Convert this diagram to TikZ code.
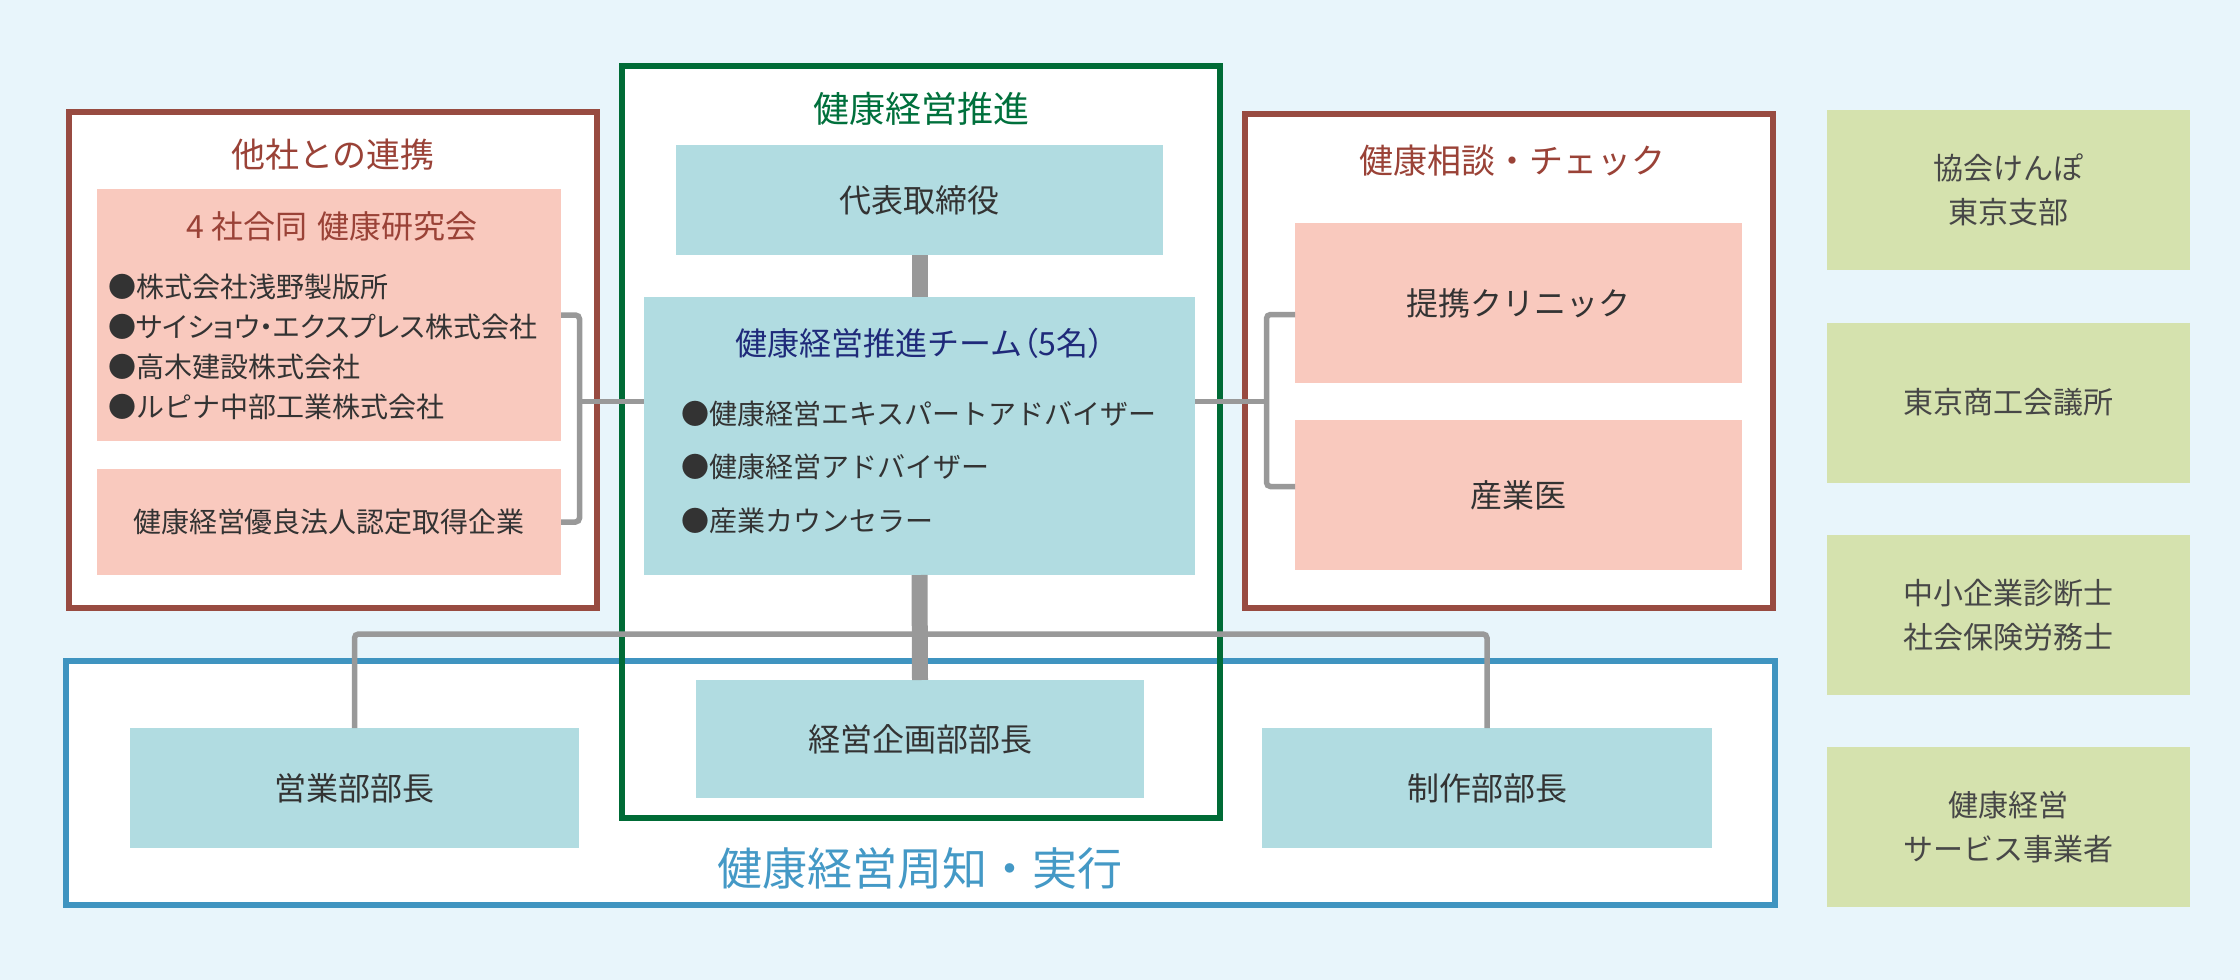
\documentclass[tikz,border=0pt]{standalone}
\usepackage{fontspec}
\setmainfont{Noto Sans CJK JP}
\usepackage{tikz}

\definecolor{bgblue}{HTML}{E8F5FB}
\definecolor{redline}{HTML}{984B41}
\definecolor{redtext}{HTML}{9A4237}
\definecolor{greenline}{HTML}{006B36}
\definecolor{greentext}{HTML}{00703C}
\definecolor{blueline}{HTML}{3F94C0}
\definecolor{bluetext}{HTML}{4499C6}
\definecolor{navytext}{HTML}{1F2A7A}
\definecolor{pinkfill}{HTML}{F9C9BE}
\definecolor{tealfill}{HTML}{B1DCE1}
\definecolor{olivefill}{HTML}{D5E2AE}
\definecolor{linkgrey}{HTML}{999999}
\definecolor{textgrey}{HTML}{333333}

\begin{document}
\begin{tikzpicture}[x=0.5pt,y=-0.5pt]
  \tikzstyle{outerbox}=[rectangle,fill=white,outer sep=0pt,inner sep=0pt]
  \tikzstyle{box}=[rectangle,outer sep=0pt,inner sep=0pt,text=textgrey,font=\fontsize{16}{20}\selectfont]
  \tikzstyle{pinkbox}=[box,fill=pinkfill]
  \tikzstyle{tealbox}=[box,fill=tealfill]
  \tikzstyle{olivebox}=[box,fill=olivefill,align=center,text=textgrey!90,minimum width=181.5pt,minimum height=80pt,font=\fontsize{15}{21.75}\selectfont]
  \tikzstyle{title}=[inner sep=0pt,font=\fontsize{17}{20}\selectfont]
  \tikzstyle{item}=[inner sep=0pt,anchor=west,align=left,text=textgrey]
  \tikzstyle{rim}=[line width=3pt]
  \tikzstyle{link}=[draw=linkgrey,line width=2.75pt,rounded corners=2pt]
  \tikzstyle{trunk}=[draw=linkgrey,line width=8pt]

  \fill[bgblue] (0,0) rectangle (2240,980);
  \useasboundingbox (0,0) rectangle (2240,980);

  % frames
  \node[outerbox,minimum width=854.5pt,minimum height=122.25pt] (fB) at (920.5,782.75) {};
  \node[outerbox,minimum width=299pt,minimum height=376pt] (fG) at (921,442) {};
  \node[outerbox,minimum width=264pt,minimum height=248pt] (fL) at (333,360) {};
  \node[outerbox,minimum width=264pt,minimum height=247pt] (fR) at (1509,361) {};
  \draw[rim,blueline] (fB.north west) rectangle (fB.south east);
  \draw[rim,greenline] (fG.north west) rectangle (fG.south east);
  \draw[rim,redline] (fL.north west) rectangle (fL.south east);
  \draw[rim,redline] (fR.north west) rectangle (fR.south east);

  \node[title,text=redtext] (tL) at (333,155) {他社との連携};
  \node[title,text=greentext,font=\fontsize{18}{20}\selectfont] (tG) at (921,109) {健康経営推進};
  \node[title,text=redtext] (tR) at (1512,161) {健康相談・チェック};
  \node[title,text=bluetext,font=\fontsize{22.5}{26}\selectfont] (tB) at (920,868) {健康経営周知・実行};

  % other companies
  \node[pinkbox,minimum width=232pt,minimum height=126pt] (kenkyu) at (329,315) {};
  \node[title,text=redtext,font=\fontsize{16}{20}\selectfont] (kenkyutitle) at (332,226) {4 社合同\hspace{5pt}健康研究会};
  \node[item,font=\fontsize{14}{20}\selectfont] (members) at (108,347)
    {●株式会社浅野製版所\\{\addfontfeature{RawFeature=+palt}●サイショウ・エクスプレス株式会社}\\●高木建設株式会社\\●ルピナ中部工業株式会社};
  \node[pinkbox,minimum width=232pt,minimum height=53pt,font=\fontsize{14}{20}\selectfont] (yuryo) at (329,522) {健康経営優良法人認定取得企業};

  % promotion
  \node[tealbox,minimum width=243.5pt,minimum height=55pt] (daihyo) at (919.5,200) {代表取締役};
  \node[tealbox,minimum width=275.5pt,minimum height=139pt] (team) at (919.5,436) {};
  \node[title,text=navytext,font=\fontsize{16}{20}\selectfont] (teamtitle) at (920,343)
    {健康経営推進チーム{\addfontfeature{RawFeature=+palt}（5名）}};
  \node[item,font=\fontsize{14}{26.75}\selectfont] (roles) at (681,467)
    {●健康経営エキスパートアドバイザー\\●健康経営アドバイザー\\●産業カウンセラー};

  % consultation
  \node[pinkbox,minimum width=223.5pt,minimum height=80pt] (clinic) at (1518.5,303) {提携クリニック};
  \node[pinkbox,minimum width=223.5pt,minimum height=75pt] (sangyoi) at (1518.5,495) {産業医};

  % departments
  \node[tealbox,minimum width=224.5pt,minimum height=60pt] (eigyo) at (354.5,788) {営業部部長};
  \node[tealbox,minimum width=224pt,minimum height=59pt] (kikaku) at (920,739) {経営企画部部長};
  \node[tealbox,minimum width=225pt,minimum height=60pt] (seisaku) at (1487,788) {制作部部長};

  % outside partners
  \node[olivebox] (kenpo) at (2008.5,190) {協会けんぽ\\東京支部};
  \node[olivebox] (shoko) at (2008.5,402.5) {東京商工会議所};
  \node[olivebox] (shindan) at (2008.5,615) {中小企業診断士\\社会保険労務士};
  \node[olivebox] (service) at (2008.5,827) {健康経営\\サービス事業者};

  % connectors
  \coordinate (jL) at (579.5,401.5);
  \coordinate (jR) at (1266.5,401.5);
  \coordinate (jRtop) at (1266.5,314.5);
  \coordinate (jRbot) at (1266.5,486.5);
  \coordinate (hub) at (920,634);
  \draw[link] (kenkyu.east) -| (jL) |- (yuryo.east);
  \draw[link] (jL) -- (jL -| team.west);
  \draw[link] (jR -| team.east) -- (jR);
  \draw[link] (clinic.west |- jRtop) -- (jRtop) -- (jRbot) -- (sangyoi.west |- jRbot);
  \draw[link] (eigyo.north) |- (hub) -| (seisaku.north);
  \draw[trunk] (daihyo.south) -- (team.north);
  \draw[trunk] (team.south) -- (kikaku.north);
\end{tikzpicture}
\end{document}
